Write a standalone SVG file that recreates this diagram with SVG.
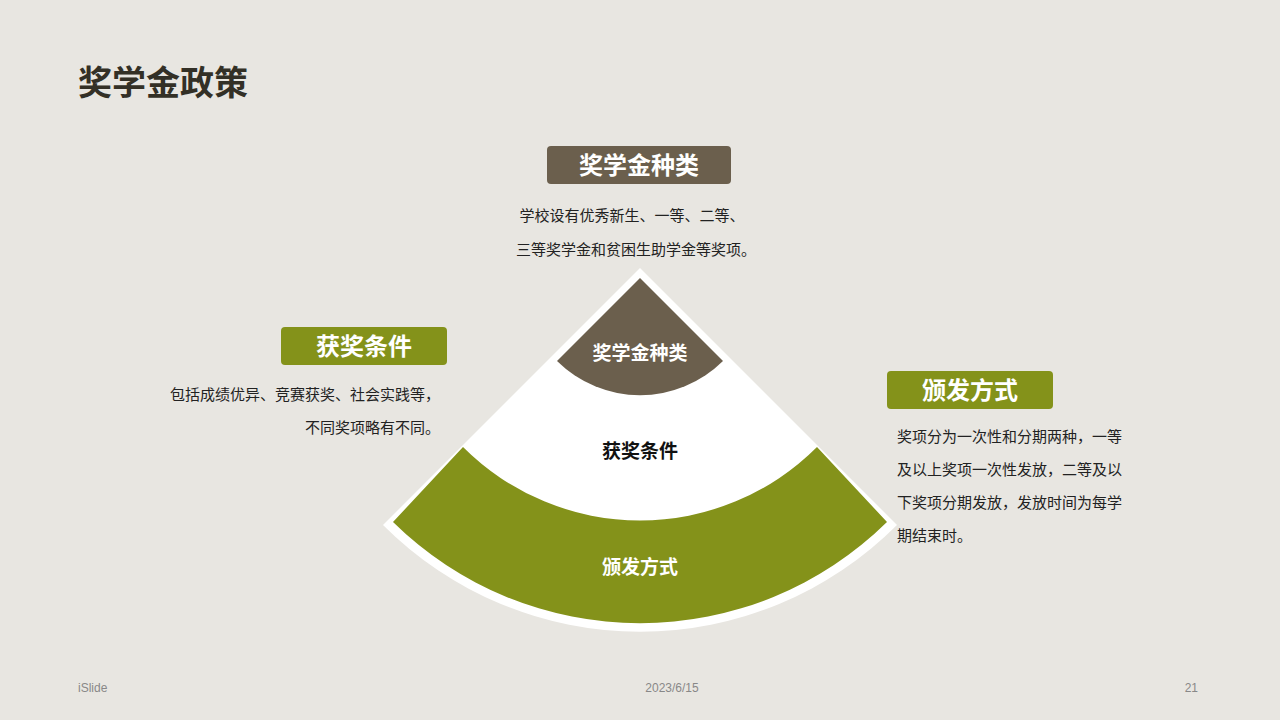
<svg xmlns="http://www.w3.org/2000/svg" width="1280" height="720" viewBox="0 0 1280 720">
<style>
text{font-family:"Noto Sans CJK SC","Liberation Sans",sans-serif}
.t{font-size:15px;fill:#222}
.h{font-size:24px;font-weight:bold;fill:#fff;text-anchor:middle}
.s{font-size:19px;font-weight:bold;text-anchor:middle}
.f{font-family:"Liberation Sans",sans-serif;font-size:12px;fill:#888}
</style>
<rect width="1280" height="720" fill="#e8e6e1"/>
<text x="78" y="95" font-size="34" font-weight="bold" fill="#333026">奖学金政策</text>
<g id="fan">
<path d="M640,268 L383,525 A363,363 0 0 0 897,525 Z" fill="#fff"/>
<path d="M463,447 L393,522 A352,352 0 0 0 887,522 L817,447 A250,250 0 0 1 463,447 Z" fill="#84921a"/>
<path d="M640,278 L557,361 A118,118 0 0 0 723,361 Z" fill="#6b5f4d"/>
</g>
<g id="s1"><text x="640" y="360" class="s" fill="#fff">奖学金种类</text></g>
<g id="s2"><text x="640" y="458" class="s" fill="#111">获奖条件</text></g>
<g id="s3"><text x="640" y="574" class="s" fill="#fff">颁发方式</text></g>
<g id="n1">
<rect x="547" y="146" width="184" height="38" rx="4" fill="#6b5f4d"/>
<text x="639" y="174" class="h">奖学金种类</text>
<text x="632" y="221" class="t" text-anchor="middle">学校设有优秀新生、一等、二等、</text>
<text x="636" y="255" class="t" text-anchor="middle">三等奖学金和贫困生助学金等奖项。</text>
</g>
<g id="n2">
<rect x="281" y="327" width="166" height="38" rx="4" fill="#84921a"/>
<text x="364" y="355" class="h">获奖条件</text>
<text x="440" y="400" class="t" text-anchor="end">包括成绩优异、竞赛获奖、社会实践等，</text>
<text x="440" y="433" class="t" text-anchor="end">不同奖项略有不同。</text>
</g>
<g id="n3">
<rect x="887" y="371" width="166" height="38" rx="4" fill="#84921a"/>
<text x="970" y="399" class="h">颁发方式</text>
<text x="897" y="442" class="t">奖项分为一次性和分期两种，一等</text>
<text x="897" y="475" class="t">及以上奖项一次性发放，二等及以</text>
<text x="897" y="508" class="t">下奖项分期发放，发放时间为每学</text>
<text x="897" y="541" class="t">期结束时。</text>
</g>
<text x="78" y="692" class="f">iSlide</text>
<text x="672" y="692" class="f" text-anchor="middle">2023/6/15</text>
<text x="1198" y="692" class="f" text-anchor="end">21</text>
</svg>
